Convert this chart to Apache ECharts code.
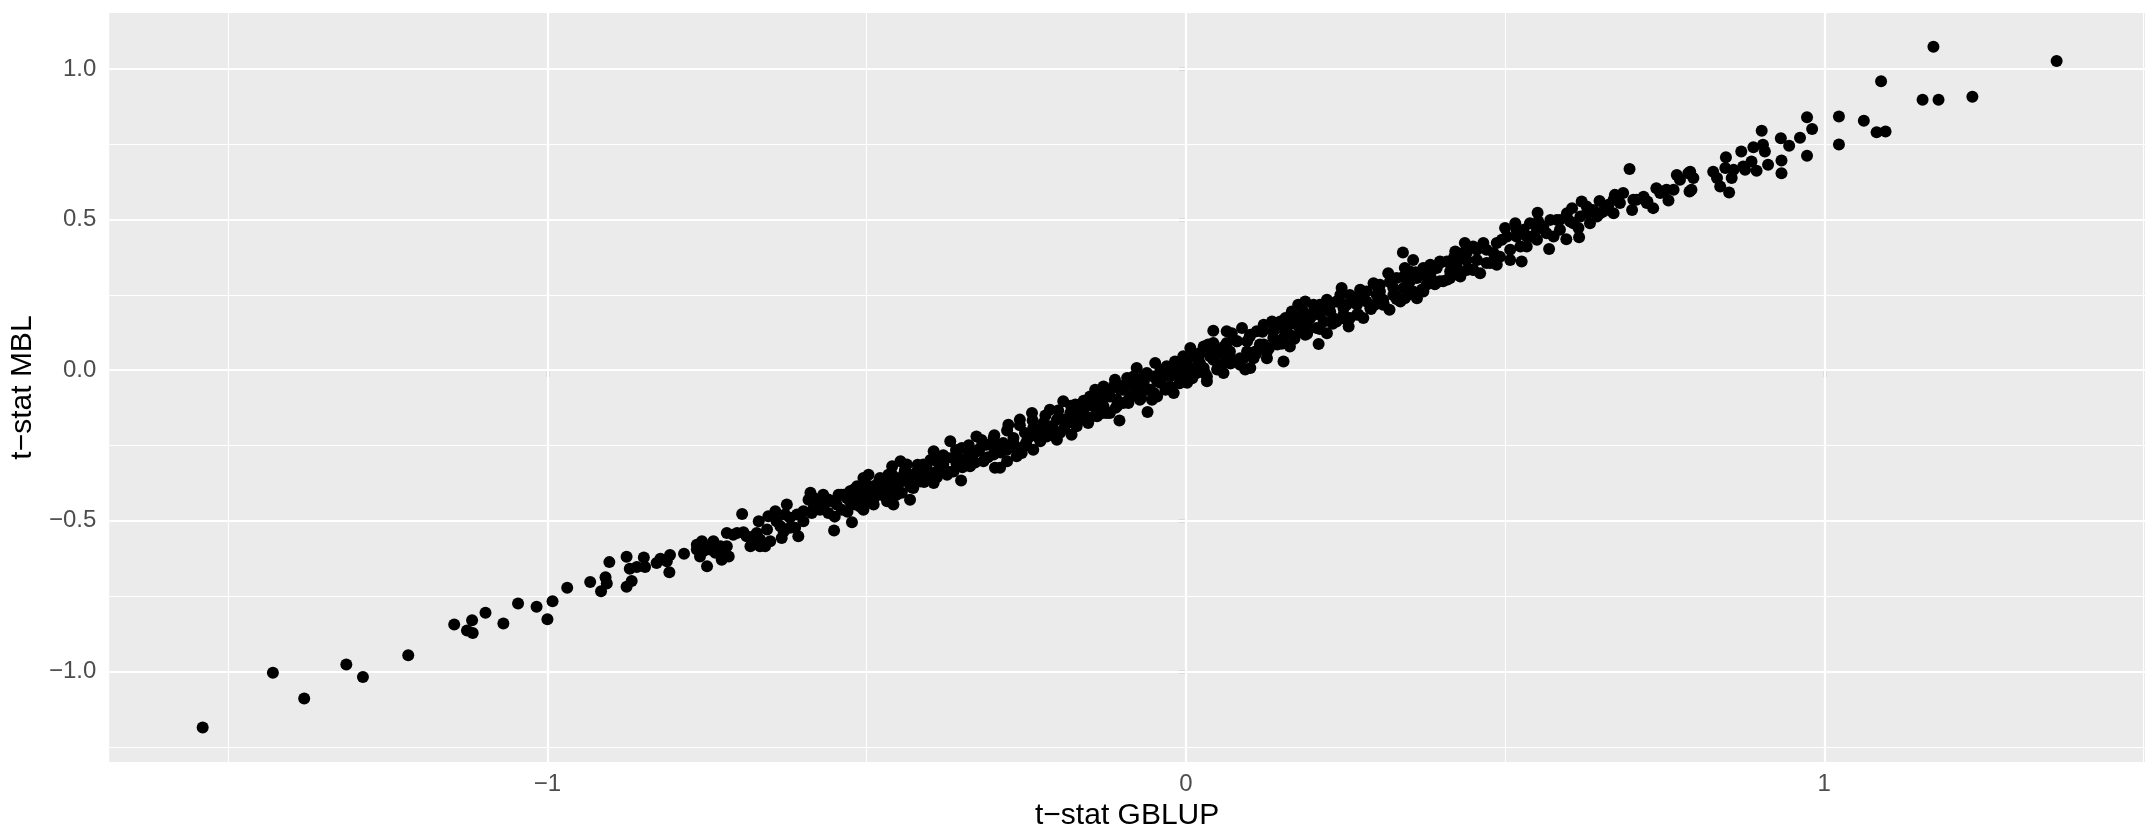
<!DOCTYPE html>
<html>
<head>
<meta charset="utf-8">
<title>t-stat GBLUP vs t-stat MBL</title>
<script src="https://cdn.jsdelivr.net/npm/echarts@6/dist/echarts.min.js"></script>
<style>
  html, body { margin: 0; padding: 0; background: #ffffff; }
  #chart { width: 2145px; height: 836px; }
</style>
</head>
<body>
<div id="chart"></div>
<script>
// Tick positions and their printed labels
const xTickValues = [-1, 0, 1];
const xTickLabels = ['\u22121', '0', '1'];
const yTickValues = [-1, -0.5, 0, 0.5, 1];
const yTickLabels = ['\u22121.0', '\u22120.5', '0.0', '0.5', '1.0'];
const xMinorValues = [-1.5, -0.5, 0.5, 1.5];
const yMinorValues = [-1.25, -0.75, -0.25, 0.25, 0.75];

// [t-stat GBLUP, t-stat MBL] pairs, grouped along the band
const lowerTail = [
  [-1.540,-1.186],[-1.430,-1.004],[-1.381,-1.090],[-1.315,-0.977],[-1.289,-1.018],
  [-1.218,-0.946],[-1.146,-0.844],[-1.118,-0.830],[-1.126,-0.864],[-1.117,-0.872],
  [-1.097,-0.805],[-1.069,-0.841],[-1.046,-0.774],[-1.017,-0.785],[-1.000,-0.827],
  [-0.992,-0.767]
];

const bandLow = [
  [-0.969,-0.722],[-0.933,-0.703],[-0.916,-0.734],[-0.909,-0.687],[-0.907,-0.708],
  [-0.903,-0.637],[-0.876,-0.619],[-0.876,-0.719],[-0.868,-0.700],[-0.871,-0.659],
  [-0.860,-0.653],[-0.849,-0.622],[-0.847,-0.653],[-0.829,-0.640],[-0.823,-0.626],
  [-0.809,-0.671],[-0.808,-0.613],[-0.813,-0.634],[-0.786,-0.609],[-0.766,-0.579],
  [-0.758,-0.568],[-0.756,-0.601],[-0.750,-0.590],[-0.761,-0.590],[-0.750,-0.651],
  [-0.740,-0.568],[-0.737,-0.606],[-0.727,-0.629],[-0.719,-0.584],[-0.719,-0.540],
  [-0.716,-0.618],[-0.703,-0.540],[-0.695,-0.477],[-0.693,-0.538],[-0.682,-0.584],
  [-0.677,-0.551],[-0.669,-0.501],[-0.667,-0.562],[-0.659,-0.584],[-0.654,-0.485],
  [-0.656,-0.529],
  [-0.766,-0.595],[-0.756,-0.579],[-0.745,-0.595],[-0.729,-0.584],[-0.724,-0.601],
  [-0.709,-0.546],[-0.688,-0.551],[-0.672,-0.540],[-0.667,-0.584],[-0.761,-0.618]
];

const bandLowMid = [
  [-0.651,-0.568],[-0.643,-0.468],[-0.633,-0.557],[-0.635,-0.518],[-0.625,-0.446],
  [-0.620,-0.490],[-0.607,-0.551],[-0.612,-0.523],[-0.599,-0.501],[-0.588,-0.407],
  [-0.591,-0.430],[-0.586,-0.474],[-0.575,-0.435],[-0.573,-0.463],[-0.560,-0.474],
  [-0.560,-0.435],[-0.551,-0.532],[-0.544,-0.413],[-0.547,-0.446],[-0.539,-0.463],
  [-0.531,-0.424],[-0.523,-0.505],[-0.526,-0.402],[-0.518,-0.446],[-0.515,-0.385],
  [-0.513,-0.419],[-0.505,-0.358],[-0.505,-0.463],[-0.502,-0.402],[-0.497,-0.347],
  [-0.494,-0.435],[-0.489,-0.385],[-0.484,-0.413],[-0.479,-0.358],[-0.474,-0.391],
  [-0.468,-0.435],[-0.466,-0.347],[-0.458,-0.446],[-0.460,-0.319],[-0.455,-0.380],
  [-0.447,-0.302],[-0.445,-0.407],[-0.442,-0.347],[-0.437,-0.313],[-0.432,-0.430],
  [-0.434,-0.369],[-0.427,-0.391],[-0.421,-0.336],[-0.411,-0.313],[-0.406,-0.347],
  [-0.395,-0.269],[-0.395,-0.374],[-0.390,-0.302],[-0.385,-0.336],[-0.374,-0.347],
  [-0.369,-0.236],[-0.366,-0.291],[-0.359,-0.313],[-0.352,-0.366],[-0.351,-0.258],
  [-0.343,-0.291],[-0.338,-0.319],[-0.328,-0.220],[-0.327,-0.269],[-0.317,-0.302],
  [-0.312,-0.247],[-0.301,-0.225],[-0.299,-0.324],[-0.296,-0.269]
];

const coreLowMid = [
  [-0.641,-0.501],[-0.628,-0.479],[-0.620,-0.523],[-0.609,-0.479],[-0.599,-0.468],
  [-0.630,-0.535],[-0.583,-0.424],[-0.568,-0.413],
  [-0.583,-0.457],[-0.568,-0.446],[-0.552,-0.435],[-0.536,-0.413],[-0.526,-0.435],
  [-0.515,-0.413],[-0.510,-0.446],[-0.500,-0.424],[-0.494,-0.391],[-0.489,-0.446],
  [-0.484,-0.380],[-0.479,-0.413],[-0.471,-0.369],[-0.468,-0.413],[-0.463,-0.391],
  [-0.455,-0.358],[-0.453,-0.413],[-0.445,-0.369],[-0.440,-0.336],[-0.432,-0.380],
  [-0.427,-0.347],[-0.416,-0.369],[-0.406,-0.324],[-0.400,-0.358],[-0.390,-0.336],
  [-0.380,-0.313],[-0.374,-0.291],[-0.364,-0.336],[-0.359,-0.280],[-0.348,-0.302],
  [-0.338,-0.269],[-0.333,-0.302],[-0.322,-0.258],[-0.314,-0.291],[-0.307,-0.247],
  [-0.301,-0.280],[-0.291,-0.247]
];

const bandMid = [
  [-0.291,-0.324],[-0.280,-0.302],[-0.278,-0.181],[-0.286,-0.242],[-0.270,-0.225],
  [-0.260,-0.164],[-0.257,-0.275],[-0.252,-0.208],[-0.241,-0.142],[-0.239,-0.192],
  [-0.228,-0.236],[-0.223,-0.175],[-0.213,-0.131],[-0.207,-0.197],[-0.202,-0.231],
  [-0.192,-0.103],[-0.192,-0.164],[-0.179,-0.214],[-0.173,-0.114],[-0.171,-0.164],
  [-0.160,-0.131],[-0.153,-0.175],[-0.150,-0.087],[-0.142,-0.065],[-0.139,-0.131],
  [-0.134,-0.098],[-0.129,-0.054],[-0.124,-0.142],[-0.119,-0.087],[-0.111,-0.032],
  [-0.108,-0.120],[-0.104,-0.167],[-0.098,-0.065],[-0.092,-0.026],[-0.090,-0.098],
  [-0.082,-0.054],[-0.077,0.007],[-0.074,-0.087],[-0.066,-0.021],[-0.060,-0.139],
  [-0.061,-0.065],[-0.053,-0.098],[-0.048,0.024],[-0.045,-0.037],[-0.035,0.002],
  [-0.032,-0.065],[-0.025,-0.021],[-0.019,-0.076],[-0.017,0.029],[-0.009,-0.021],
  [-0.004,0.046],[0.002,-0.042],[0.007,0.074],[0.012,0.007],[0.022,0.057],
  [0.028,0.007],[0.033,-0.037],[0.035,0.085],[0.043,0.131],[0.043,0.035],
  [0.051,0.068],[0.059,-0.009],[0.064,0.129],[0.064,0.046]
];

const coreMid = [
  [-0.280,-0.264],[-0.270,-0.242],[-0.265,-0.286],[-0.254,-0.253],[-0.244,-0.220],
  [-0.239,-0.264],[-0.228,-0.197],[-0.218,-0.220],[-0.213,-0.186],[-0.202,-0.164],
  [-0.197,-0.208],[-0.186,-0.175],[-0.181,-0.142],[-0.171,-0.186],[-0.166,-0.142],
  [-0.160,-0.109],[-0.155,-0.164],[-0.145,-0.120],[-0.139,-0.153],[-0.134,-0.076],
  [-0.129,-0.120],[-0.124,-0.087],[-0.119,-0.142],[-0.113,-0.054],[-0.108,-0.098],
  [-0.103,-0.065],[-0.098,-0.109],[-0.092,-0.042],[-0.087,-0.087],[-0.082,-0.021],
  [-0.077,-0.065],[-0.072,-0.098],[-0.066,-0.042],[-0.061,-0.009],[-0.056,-0.065],
  [-0.051,-0.021],[-0.045,-0.087],[-0.040,-0.042],[-0.035,-0.021],[-0.030,0.013],
  [-0.025,-0.054],[-0.019,-0.009],[-0.014,0.024],[-0.009,-0.042],[-0.004,0.002],
  [0.002,0.035],[0.007,-0.021],[0.012,0.046],[0.017,-0.009],[0.022,0.024],
  [0.028,0.079],[0.033,-0.021],[0.038,0.046],[0.043,0.090],[0.049,0.002],
  [0.054,0.057],[0.059,0.024],[0.064,0.090],[0.069,0.046]
];

// points hidden inside the solid centre of the band
const coreFill = [
  [-0.560,-0.429],[-0.550,-0.486],[-0.540,-0.413],[-0.530,-0.470],[-0.520,-0.396],
  [-0.510,-0.453],[-0.500,-0.380],[-0.490,-0.437],[-0.480,-0.364],[-0.470,-0.420],
  [-0.460,-0.347],[-0.450,-0.404],[-0.440,-0.331],[-0.430,-0.388],[-0.420,-0.314],
  [-0.410,-0.371],[-0.400,-0.298],[-0.390,-0.355],[-0.380,-0.282],[-0.370,-0.338],
  [-0.360,-0.265],[-0.350,-0.322],[-0.340,-0.249],[-0.330,-0.306],[-0.320,-0.232],
  [-0.310,-0.289],[-0.300,-0.216],[-0.290,-0.273],[-0.280,-0.200],[-0.270,-0.256],
  [-0.260,-0.183],[-0.250,-0.240],[-0.240,-0.167],[-0.230,-0.224],[-0.220,-0.150],
  [-0.210,-0.207],[-0.200,-0.134],[-0.190,-0.191],[-0.180,-0.118],[-0.170,-0.174],
  [-0.160,-0.101],[-0.150,-0.158],[-0.140,-0.085],[-0.130,-0.142],[-0.120,-0.068],
  [-0.110,-0.125],[-0.100,-0.052],[-0.090,-0.109],[-0.080,-0.036],[-0.070,-0.092],
  [-0.060,-0.019],[-0.050,-0.076],[-0.040,-0.003],[-0.030,-0.060],[-0.020,0.014],
  [-0.010,-0.043],[0.000,0.030],[0.010,-0.027],[0.020,0.046],[0.030,-0.010],
  [0.040,0.063],[0.050,0.006],[0.060,0.079],[0.070,0.022],[0.080,0.096],
  [0.090,0.039],[0.100,0.112],[0.110,0.055],[0.120,0.128],[0.130,0.072],
  [0.140,0.145],[0.150,0.088],[0.160,0.161],[0.170,0.104],[0.180,0.178],
  [0.190,0.121],[0.200,0.194],[0.210,0.137],[0.220,0.210],[0.230,0.154],
  [0.240,0.227],[0.250,0.170],[0.260,0.243],[0.270,0.186],[0.280,0.260],
  [0.290,0.203],[0.300,0.276],[0.310,0.219],[0.320,0.292],[0.330,0.236],
  [0.340,0.309],[0.350,0.252],[0.360,0.325],[0.370,0.268],[0.380,0.342],
  [0.390,0.285],[0.400,0.358],[0.410,0.301],[0.420,0.374],[0.430,0.318],
  [0.440,0.391],[0.450,0.334]
];

const bandHighMid = [
  [0.069,0.062],[0.072,0.123],[0.088,0.140],[0.093,0.002],[0.101,0.007],
  [0.085,0.040],[0.096,0.096],[0.111,0.129],[0.109,0.062],[0.122,0.085],
  [0.127,0.040],[0.135,0.162],[0.137,0.107],[0.153,0.029],[0.150,0.140],
  [0.156,0.173],[0.163,0.079],[0.166,0.195],[0.174,0.151],[0.176,0.217],
  [0.187,0.228],[0.187,0.118],[0.195,0.173],[0.200,0.217],[0.208,0.087],
  [0.210,0.184],[0.221,0.123],[0.221,0.234],[0.226,0.195],[0.236,0.162],
  [0.236,0.228],[0.244,0.273],[0.247,0.206],[0.255,0.145],[0.257,0.250],
  [0.257,0.173],[0.268,0.217],[0.273,0.267],[0.278,0.173],[0.283,0.228],
  [0.294,0.289],[0.296,0.217],[0.304,0.261],[0.309,0.234],[0.317,0.322],
  [0.319,0.201],[0.325,0.273],[0.330,0.245],[0.340,0.391],[0.343,0.339],
  [0.343,0.239],[0.351,0.295],[0.356,0.366],[0.362,0.239],[0.370,0.317],
  [0.372,0.261],[0.383,0.350],[0.388,0.295],[0.398,0.361],[0.403,0.295],
  [0.414,0.328],[0.422,0.394],[0.424,0.350]
];

const coreHighMid = [
  [0.080,0.096],[0.085,0.018],[0.096,0.062],[0.101,0.118],[0.106,0.040],
  [0.116,0.085],[0.122,0.151],[0.127,0.062],[0.137,0.129],[0.143,0.085],
  [0.148,0.162],[0.153,0.107],[0.161,0.151],[0.163,0.118],[0.174,0.173],
  [0.179,0.129],[0.184,0.195],[0.190,0.151],[0.200,0.184],[0.205,0.140],
  [0.210,0.217],[0.216,0.162],[0.226,0.217],[0.231,0.173],[0.242,0.250],
  [0.247,0.184],[0.252,0.217],[0.262,0.239],[0.268,0.184],[0.273,0.239],
  [0.283,0.261],[0.289,0.206],[0.299,0.250],[0.304,0.284],[0.309,0.217],
  [0.320,0.295],[0.325,0.250],[0.330,0.306],[0.336,0.228],[0.341,0.273],
  [0.351,0.328],[0.356,0.261],[0.362,0.306],[0.372,0.339],[0.377,0.284],
  [0.383,0.317],[0.393,0.339],[0.398,0.295],[0.409,0.361],[0.414,0.306],
  [0.424,0.339],[0.430,0.372]
];

const bandHigh = [
  [0.430,0.311],[0.437,0.422],[0.440,0.366],[0.450,0.333],[0.456,0.400],
  [0.466,0.422],[0.471,0.356],[0.482,0.389],[0.487,0.350],[0.495,0.433],
  [0.500,0.472],[0.508,0.400],[0.516,0.488],[0.518,0.444],[0.526,0.361],
  [0.529,0.466],[0.534,0.411],[0.542,0.444],[0.550,0.433],[0.551,0.523],
  [0.552,0.494],[0.565,0.455],[0.569,0.402],[0.581,0.499],[0.586,0.466],
  [0.596,0.435],[0.602,0.494],[0.605,0.538],[0.615,0.472],[0.616,0.441],
  [0.620,0.560],[0.628,0.521],[0.633,0.488],[0.644,0.510],[0.648,0.562],
  [0.654,0.527],[0.662,0.549],[0.670,0.521],[0.672,0.582],[0.685,0.588],
  [0.695,0.668],[0.699,0.532],[0.701,0.566],[0.717,0.576],[0.723,0.560],
  [0.732,0.538],[0.737,0.604],[0.745,0.593],[0.756,0.563],[0.764,0.599],
  [0.769,0.648],[0.774,0.632],[0.787,0.654],[0.789,0.593],
  [0.435,0.389],[0.440,0.333],[0.450,0.411],[0.456,0.366],[0.461,0.322],
  [0.471,0.400],[0.477,0.356],[0.487,0.422],[0.492,0.377],[0.503,0.444],
  [0.508,0.366],[0.518,0.466],[0.524,0.411],[0.534,0.444],[0.539,0.488],
  [0.550,0.466],[0.560,0.477],[0.571,0.499],[0.576,0.444],[0.586,0.499],
  [0.597,0.521],[0.607,0.488],[0.618,0.510],[0.628,0.543],[0.638,0.532],
  [0.649,0.521],[0.659,0.543],[0.670,0.566],[0.680,0.555],[0.706,0.566],
  [0.722,0.555],[0.743,0.588],[0.753,0.599]
];

const upperTail = [
  [0.790,0.659],[0.792,0.599],[0.795,0.638],[0.826,0.659],[0.832,0.638],
  [0.837,0.610],[0.846,0.707],[0.845,0.671],[0.851,0.590],[0.855,0.638],
  [0.858,0.665],[0.870,0.726],[0.873,0.676],[0.876,0.665],[0.886,0.693],
  [0.889,0.740],[0.894,0.662],[0.902,0.795],[0.904,0.748],[0.907,0.726],
  [0.912,0.682],[0.932,0.770],[0.933,0.696],[0.933,0.654],[0.945,0.745],
  [0.973,0.840],[0.981,0.801],[0.962,0.772],[0.973,0.712],[1.023,0.842],
  [1.023,0.749],[1.062,0.828],[1.089,0.959],[1.082,0.790],[1.096,0.792],
  [1.154,0.898],[1.179,0.898],[1.171,1.074],[1.232,0.908],[1.364,1.026]
];

const points = [].concat(lowerTail, bandLow, bandLowMid, coreLowMid, bandMid, coreMid,
  coreFill, bandHighMid, coreHighMid, bandHigh, upperTail);

const FONT = '"Liberation Sans", Arial, sans-serif';
const labelFor = (values, labels) => (v) => {
  const i = values.findIndex((t) => Math.abs(t - v) < 1e-9);
  return i >= 0 ? labels[i] : '';
};

const gridLine = (axis, v, width) => ({ [axis]: v, lineStyle: { color: '#ffffff', width: width, type: 'solid' } });
const gridLines = [].concat(
  xMinorValues.map((v) => gridLine('xAxis', v, 1.1)),
  yMinorValues.map((v) => gridLine('yAxis', v, 1.1)),
  xTickValues.map((v) => gridLine('xAxis', v, 2.2)),
  yTickValues.map((v) => gridLine('yAxis', v, 2.2))
);

const chart = echarts.init(document.getElementById('chart'), null, { renderer: 'canvas' });
chart.setOption({
  animation: false,
  backgroundColor: '#ffffff',
  grid: {
    left: 109, right: 0, top: 13, bottom: 73,
    show: true, backgroundColor: '#EBEBEB', borderWidth: 0
  },
  xAxis: {
    type: 'value',
    min: -1.6863, max: 1.5024,
    name: 't\u2212stat GBLUP',
    nameLocation: 'middle',
    nameGap: 38,
    nameTextStyle: { color: '#000000', fontSize: 30, fontFamily: FONT },
    axisLine: { show: false },
    axisTick: { show: true, customValues: xTickValues, length: 7, lineStyle: { color: '#333333', width: 2.2 } },
    axisLabel: { customValues: xTickValues, formatter: labelFor(xTickValues, xTickLabels), margin: 10, color: '#4D4D4D', fontSize: 24, fontFamily: FONT },
    splitLine: { show: false }
  },
  yAxis: {
    type: 'value',
    min: -1.3008, max: 1.1857,
    name: 't\u2212stat MBL',
    nameLocation: 'middle',
    nameGap: 60,
    nameTextStyle: { color: '#000000', fontSize: 30, fontFamily: FONT },
    axisLine: { show: false },
    axisTick: { show: true, customValues: yTickValues, length: 7, lineStyle: { color: '#333333', width: 2.2 } },
    axisLabel: { customValues: yTickValues, formatter: labelFor(yTickValues, yTickLabels), margin: 13, color: '#4D4D4D', fontSize: 24, fontFamily: FONT },
    splitLine: { show: false }
  },
  series: [
    {
      // panel grid lines
      type: 'scatter',
      data: [],
      z: 1,
      silent: true,
      markLine: {
        silent: true,
        z: 1,
        symbol: ['none', 'none'],
        label: { show: false },
        emphasis: { disabled: true },
        animation: false,
        data: gridLines
      }
    },
    {
      type: 'scatter',
      z: 3,
      symbol: 'circle',
      symbolSize: 12,
      itemStyle: { color: '#000000', opacity: 1 },
      emphasis: { disabled: true },
      data: points
    }
  ]
});
</script>
</body>
</html>
